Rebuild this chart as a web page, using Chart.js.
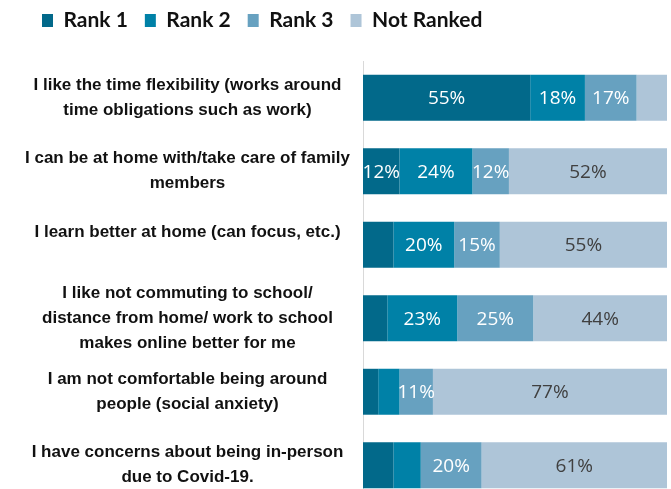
<!DOCTYPE html>
<html>
<head>
<meta charset="utf-8">
<script src="https://cdn.jsdelivr.net/npm/chart.js@4/dist/chart.umd.min.js"></script>
<style>
  html, body { margin: 0; padding: 0; background: #fff; overflow: hidden; }
  #wrap { width: 671px; height: 502px; }
</style>
</head>
<body>
<div id="wrap"><canvas id="myChart"></canvas></div>
<script>
var categories = [
    ['I like the time flexibility (works around', 'time obligations such as work)'],
    ['I can be at home with/take care of family', 'members'],
    ['I learn better at home (can focus, etc.)', ''],
    ['I like not commuting to school/', 'distance from home/ work to school', 'makes online better for me'],
    ['I am not comfortable being around', 'people (social anxiety)'],
    ['I have concerns about being in-person', 'due to Covid-19.']
];
var seriesNames = ['Rank 1', 'Rank 2', 'Rank 3', 'Not Ranked'];
var rank1 = [55, 12, 10, 8, 5, 10];
var rank2 = [18, 24, 20, 23, 7, 9];
var rank3 = [17, 12, 15, 25, 11, 20];
var notRanked = [10, 52, 55, 44, 77, 61];

var colors = ['#02698A', '#0081A7', '#67A1C0', '#AEC5D8'];
var labelColors = ['#ffffff', '#ffffff', '#ffffff', '#404040'];

// draws the % values inside the bars
var barLabels = {
    id: 'barLabels',
    afterDatasetsDraw: function (chart) {
        var ctx = chart.ctx;
        ctx.save();
        ctx.font = '19px "Open Sans", sans-serif';
        ctx.textAlign = 'center';
        ctx.textBaseline = 'middle';
        chart.data.datasets.forEach(function (ds, di) {
            var meta = chart.getDatasetMeta(di);
            meta.data.forEach(function (bar, i) {
                var v = ds.data[i];
                if (v <= 10) return;
                ctx.fillStyle = labelColors[di];
                ctx.fillText(v + '%', (bar.x + bar.base) / 2, bar.y + 1);
            });
        });
        ctx.restore();
    }
};

var values = [rank1, rank2, rank3, notRanked];
var ctx = document.getElementById('myChart').getContext('2d');
var chart = new Chart(ctx, {
    type: 'bar',
    data: {
        labels: categories,
        datasets: values.map(function (d, i) {
            return {
                label: seriesNames[i],
                data: d,
                backgroundColor: colors[i],
                borderWidth: 0,
                barPercentage: 0.625,
                categoryPercentage: 1
            };
        })
    },
    options: {
        indexAxis: 'y',
        responsive: true,
        maintainAspectRatio: false,
        animation: false,
        layout: { padding: { top: -7, left: 25, right: 4, bottom: 0 } },
        plugins: {
            tooltip: { enabled: false },
            legend: {
                position: 'top',
                align: 'start',
                labels: {
                    boxWidth: 11,
                    boxHeight: 13,
                    padding: 17,
                    color: '#111',
                    font: { family: 'Lato, "Liberation Sans", sans-serif', size: 21, weight: 'bold' }
                }
            }
        },
        scales: {
            x: {
                stacked: true,
                position: 'top',
                min: 0,
                max: 100,
                ticks: { display: false },
                grid: { display: false, drawTicks: false },
                border: { display: false },
                afterFit: function (s) { s.height = 20; }
            },
            y: {
                stacked: true,
                grid: { display: false, drawTicks: false },
                border: { display: true, color: '#d9d9d9', width: 1 },
                ticks: {
                    autoSkip: false,
                    padding: 13,
                    crossAlign: 'center',
                    color: '#111',
                    font: { family: '"Liberation Sans", Arial, sans-serif', size: 17, weight: 'bold', lineHeight: 1.47 }
                },
                afterFit: function (s) {
                    s.width = 338;
                    s.paddingTop = 0;
                    s.paddingBottom = 0;
                }
            }
        }
    },
    plugins: [barLabels]
});
</script>
</body>
</html>
